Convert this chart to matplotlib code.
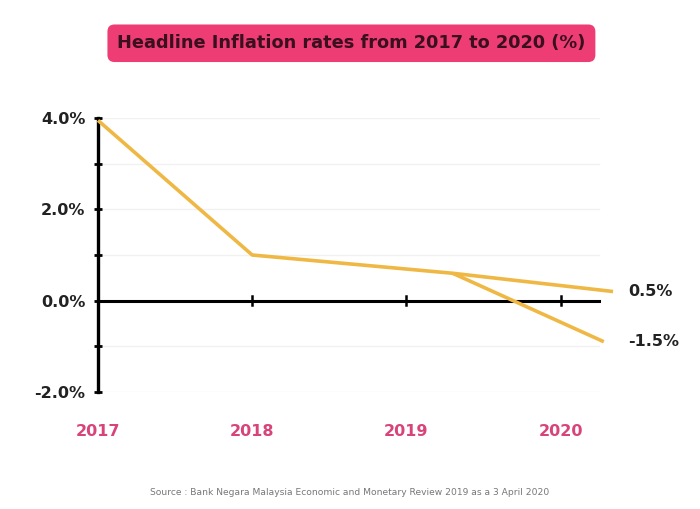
import numpy as np
import matplotlib.pyplot as plt

years = [2017, 2018, 2019, 2020]
year_labels = ['2017', '2018', '2019', '2020']

# headline path (x in fractional years)
head_x = [2017.0, 2018.0, 2019.3, 2020.34]
head_y = [3.95, 1.0, 0.6, 0.2]

# lower branch after the split
low_x = [2019.3, 2020.28]
low_y = [0.6, -0.9]

end_labels = ['0.5%', '-1.5%']
yticks = [-2, 0, 2, 4]
ytick_labels = ['-2.0%', '0.0%', '2.0%', '4.0%']

gold = '#efb845'
pink = '#d8437a'
dark = '#222222'

fig = plt.figure(figsize=(7, 5.09), dpi=100)
ax = fig.add_axes([0.14, 0.230, 0.749, 0.538])
ax.set_xlim(2017, 2020.4)
ax.set_ylim(-2, 4)

# faint gridlines
for g in range(-2, 5):
    ax.plot([2017, 2020.25], [g, g], color='#f1f1f1', lw=1, zorder=1)

# zero line as the x axis
ax.plot([2017, 2020.25], [0, 0], color='black', lw=2.2, zorder=2)
for yr in years[1:]:
    ax.plot([yr, yr], [-0.1, 0.1], color='black', lw=1.8, zorder=2)

ax.plot(head_x, head_y, color=gold, lw=2.6, solid_capstyle='butt', zorder=3, clip_on=False)
ax.plot(low_x, low_y, color=gold, lw=2.6, solid_capstyle='butt', zorder=3, clip_on=False)

ax.text(2020.44, head_y[-1], end_labels[0], fontsize=11.5, fontweight='bold',
        color=dark, va='center', ha='left')
ax.text(2020.44, low_y[-1], end_labels[1], fontsize=11.5, fontweight='bold',
        color=dark, va='center', ha='left')

for s in ['top', 'right', 'bottom']:
    ax.spines[s].set_visible(False)
ax.spines['left'].set_linewidth(2.4)
ax.spines['left'].set_bounds(-2, 4)

ax.set_yticks(range(-2, 5))
ax.set_yticklabels([ytick_labels[yticks.index(v)] if v in yticks else '' for v in range(-2, 5)],
                   fontsize=11.5, fontweight='bold', color=dark)
ax.tick_params(axis='y', direction='inout', length=6, width=2, pad=6)

ax.set_xticks(years)
ax.set_xticklabels(year_labels, fontsize=11.5, fontweight='bold', color=pink)
ax.tick_params(axis='x', length=0, pad=23)

fig.text(0.502, 0.915, 'Headline Inflation rates from 2017 to 2020 (%)', ha='center', va='center',
         fontsize=12.8, fontweight='bold', color='#3a0f1e',
         bbox=dict(boxstyle='round,pad=0.55,rounding_size=0.4', fc='#ee3c74', ec='none'))

fig.text(0.5, 0.033, 'Source : Bank Negara Malaysia Economic and Monetary Review 2019 as a 3 April 2020',
         ha='center', va='center', fontsize=6.6, color='#777777')

fig.savefig('out.png', dpi=100)
